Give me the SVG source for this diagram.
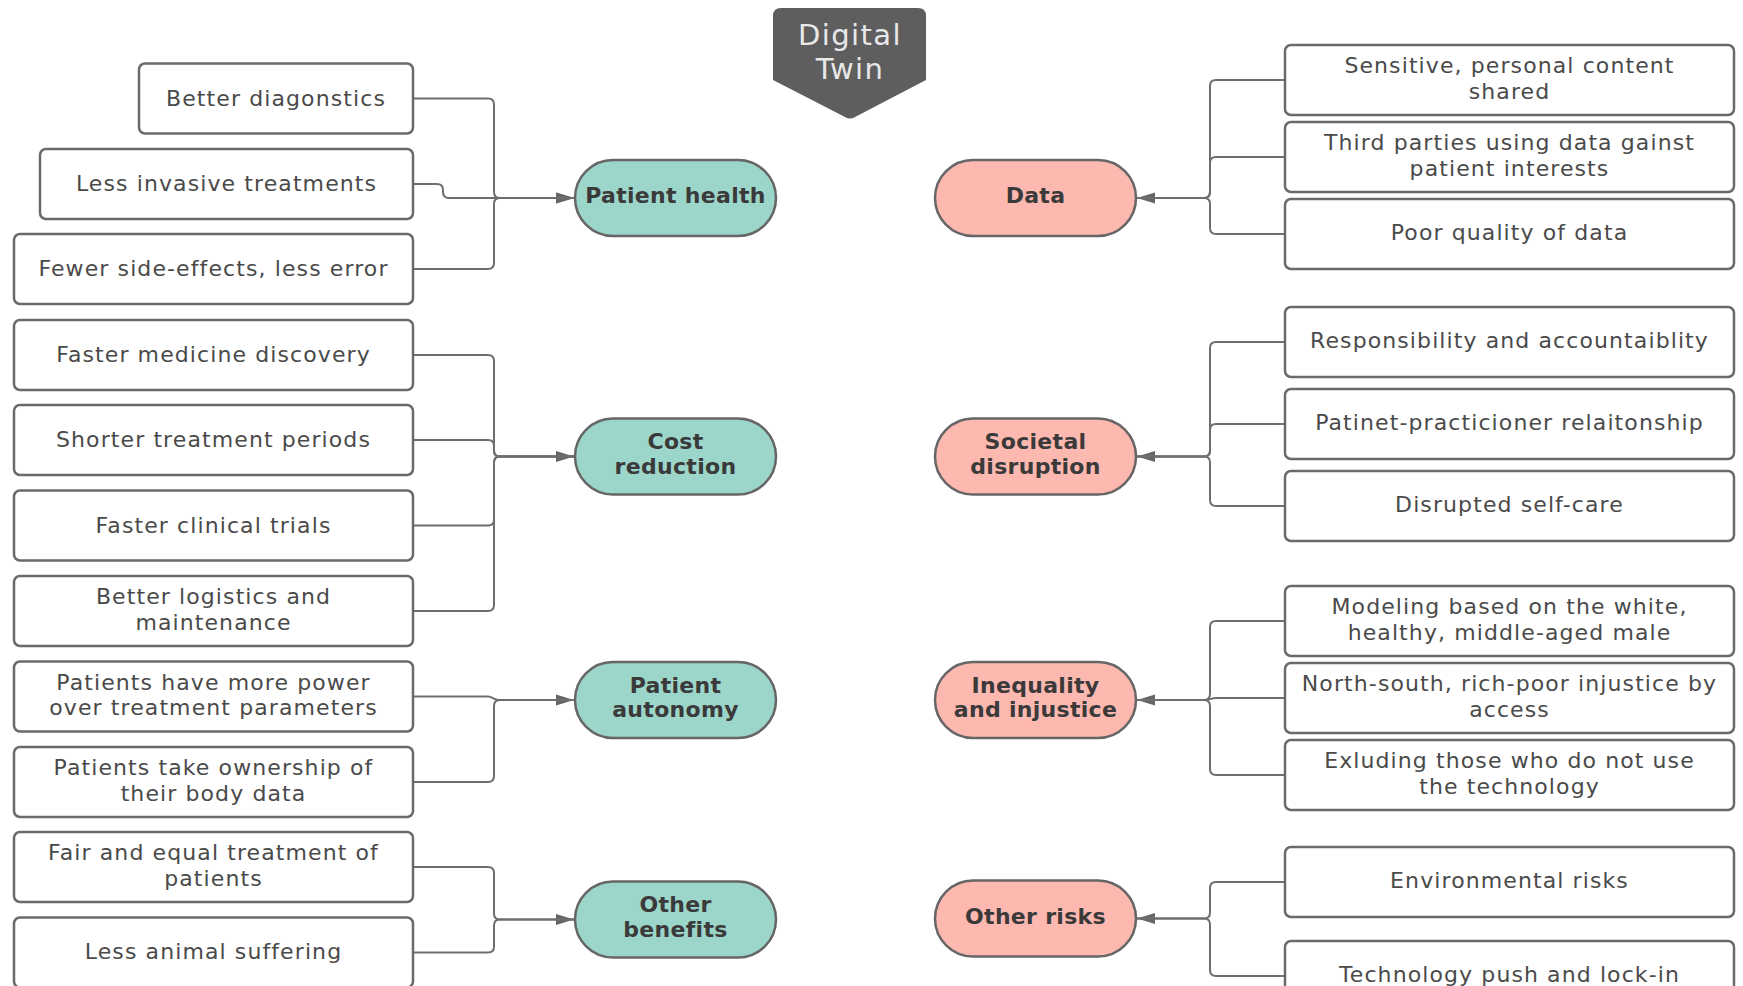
<svg xmlns="http://www.w3.org/2000/svg" width="1743" height="986" viewBox="0 0 1743 986">
  <style>
    .box { fill: #ffffff; stroke: #6a6a6a; stroke-width: 2.5; }
    .pill-benefit { fill: #9cd5c9; stroke: #666666; stroke-width: 2.5; }
    .pill-risk { fill: #fdb8af; stroke: #666666; stroke-width: 2.5; }
    .btxt { font-family: "DejaVu Sans", "Liberation Sans", sans-serif; font-size: 22px; letter-spacing: 1.1px; fill: #4a4a4a; text-anchor: middle; }
    .ptxt { font-family: "DejaVu Sans", "Liberation Sans", sans-serif; font-size: 22px; letter-spacing: 0.3px; font-weight: bold; fill: #3a3a3a; text-anchor: middle; }
    .ttxt { font-family: "DejaVu Sans", "Liberation Sans", sans-serif; font-size: 29px; fill: #e8e8e8; text-anchor: middle; letter-spacing: 1.4px; }
    .conn { fill: none; stroke: #6e6e6e; stroke-width: 2; }
  </style>
  <defs>
    <marker id="arrow" markerUnits="userSpaceOnUse" markerWidth="18" markerHeight="12" refX="18" refY="6" orient="auto">
      <path d="M0,0.5 L18,6 L0,11.5 z" fill="#666666"/>
    </marker>
  </defs>

  <rect width="1743" height="986" fill="#ffffff"/>

  <!-- title marker -->
  <g id="digital-twin">
    <path d="M781,8 H918 Q926,8 926,16 V80 L855,117 Q850,120 845,117 L773,80 V16 Q773,8 781,8 Z" fill="#5e5e5e"/>
    <text class="ttxt" x="850" y="45">Digital</text>
    <text class="ttxt" x="850" y="79">Twin</text>
  </g>

  <!-- connectors -->
  <g id="connectors">
    <!-- Patient health -->
    <path class="conn" d="M413,98.5 H488 Q494,98.5 494,104.5 V192 Q494,198 500,198 H574" marker-end="url(#arrow)"/>
    <path class="conn" d="M413,184 H437 Q443,184 443,190 V192 Q443,198 449,198 H574" marker-end="url(#arrow)"/>
    <path class="conn" d="M413,269 H488 Q494,269 494,263 V204 Q494,198 500,198 H574"/>
    <!-- Cost reduction -->
    <path class="conn" d="M413,355 H488 Q494,355 494,361 V450.5 Q494,456.5 500,456.5 H574" marker-end="url(#arrow)"/>
    <path class="conn" d="M413,440 H488 Q494,440 494,446 V450.5 Q494,456.5 500,456.5 H574"/>
    <path class="conn" d="M413,525.5 H488 Q494,525.5 494,519.5 V462.5 Q494,456.5 500,456.5 H574"/>
    <path class="conn" d="M413,611 H488 Q494,611 494,605 V462.5 Q494,456.5 500,456.5 H574"/>
    <!-- Patient autonomy -->
    <path class="conn" d="M413,696.5 H488 C493,696.5 493,700 499,700 H574" marker-end="url(#arrow)"/>
    <path class="conn" d="M413,782 H488 Q494,782 494,776 V706 Q494,700 500,700 H574"/>
    <!-- Other benefits -->
    <path class="conn" d="M413,867 H488 Q494,867 494,873 V913.5 Q494,919.5 500,919.5 H574" marker-end="url(#arrow)"/>
    <path class="conn" d="M413,952.5 H488 Q494,952.5 494,946.5 V925.5 Q494,919.5 500,919.5 H574"/>

    <!-- Data -->
    <path class="conn" d="M1285,80 H1216 Q1210,80 1210,86 V192 Q1210,198 1204,198 H1137" marker-end="url(#arrow)"/>
    <path class="conn" d="M1285,157 H1216 Q1210,157 1210,163 V192 Q1210,198 1204,198 H1137"/>
    <path class="conn" d="M1285,234 H1216 Q1210,234 1210,228 V204 Q1210,198 1204,198 H1137"/>
    <!-- Societal disruption -->
    <path class="conn" d="M1285,342 H1216 Q1210,342 1210,348 V450.5 Q1210,456.5 1204,456.5 H1137" marker-end="url(#arrow)"/>
    <path class="conn" d="M1285,424 H1216 Q1210,424 1210,430 V450.5 Q1210,456.5 1204,456.5 H1137"/>
    <path class="conn" d="M1285,506 H1216 Q1210,506 1210,500 V462.5 Q1210,456.5 1204,456.5 H1137"/>
    <!-- Inequality and injustice -->
    <path class="conn" d="M1285,621 H1216 Q1210,621 1210,627 V694 Q1210,700 1204,700 H1137" marker-end="url(#arrow)"/>
    <path class="conn" d="M1285,698 H1216 C1211,698 1211,700 1205,700 H1137"/>
    <path class="conn" d="M1285,775 H1216 Q1210,775 1210,769 V706 Q1210,700 1204,700 H1137"/>
    <!-- Other risks -->
    <path class="conn" d="M1285,882 H1216 Q1210,882 1210,888 V912.5 Q1210,918.5 1204,918.5 H1137" marker-end="url(#arrow)"/>
    <path class="conn" d="M1285,976 H1216 Q1210,976 1210,970 V924.5 Q1210,918.5 1204,918.5 H1137"/>
  </g>

  <!-- benefit categories -->
  <g id="patient-health">
    <rect class="pill-benefit" x="575" y="160" width="201" height="76" rx="38"/>
    <text class="ptxt" x="675.5" y="203">Patient health</text>
  </g>
  <g id="cost-reduction">
    <rect class="pill-benefit" x="575" y="418.5" width="201" height="76" rx="38"/>
    <text class="ptxt" x="675.5" y="449">Cost</text>
    <text class="ptxt" x="675.5" y="473.5">reduction</text>
  </g>
  <g id="patient-autonomy">
    <rect class="pill-benefit" x="575" y="662" width="201" height="76" rx="38"/>
    <text class="ptxt" x="675.5" y="692.5">Patient</text>
    <text class="ptxt" x="675.5" y="717">autonomy</text>
  </g>
  <g id="other-benefits">
    <rect class="pill-benefit" x="575" y="881.5" width="201" height="76" rx="38"/>
    <text class="ptxt" x="675.5" y="912">Other</text>
    <text class="ptxt" x="675.5" y="936.5">benefits</text>
  </g>

  <!-- risk categories -->
  <g id="data">
    <rect class="pill-risk" x="935" y="160" width="201" height="76" rx="38"/>
    <text class="ptxt" x="1035.5" y="203">Data</text>
  </g>
  <g id="societal-disruption">
    <rect class="pill-risk" x="935" y="418.5" width="201" height="76" rx="38"/>
    <text class="ptxt" x="1035.5" y="449">Societal</text>
    <text class="ptxt" x="1035.5" y="473.5">disruption</text>
  </g>
  <g id="inequality-injustice">
    <rect class="pill-risk" x="935" y="662" width="201" height="76" rx="38"/>
    <text class="ptxt" x="1035.5" y="692.5">Inequality</text>
    <text class="ptxt" x="1035.5" y="717">and injustice</text>
  </g>
  <g id="other-risks">
    <rect class="pill-risk" x="935" y="880.5" width="201" height="76" rx="38"/>
    <text class="ptxt" x="1035.5" y="923.5">Other risks</text>
  </g>

  <!-- benefit items -->
  <g id="better-diagnostics">
    <rect class="box" x="139" y="63.5" width="274" height="70" rx="6"/>
    <text class="btxt" x="276" y="105.5">Better diagonstics</text>
  </g>
  <g id="less-invasive">
    <rect class="box" x="40" y="149" width="373" height="70" rx="6"/>
    <text class="btxt" x="226.5" y="191">Less invasive treatments</text>
  </g>
  <g id="fewer-side-effects">
    <rect class="box" x="14" y="234" width="399" height="70" rx="6"/>
    <text class="btxt" x="213.5" y="276">Fewer side-effects, less error</text>
  </g>
  <g id="faster-medicine">
    <rect class="box" x="14" y="320" width="399" height="70" rx="6"/>
    <text class="btxt" x="213.5" y="362">Faster medicine discovery</text>
  </g>
  <g id="shorter-treatment">
    <rect class="box" x="14" y="405" width="399" height="70" rx="6"/>
    <text class="btxt" x="213.5" y="447">Shorter treatment periods</text>
  </g>
  <g id="faster-trials">
    <rect class="box" x="14" y="490.5" width="399" height="70" rx="6"/>
    <text class="btxt" x="213.5" y="532.5">Faster clinical trials</text>
  </g>
  <g id="better-logistics">
    <rect class="box" x="14" y="576" width="399" height="70" rx="6"/>
    <text class="btxt" x="213.5" y="604">Better logistics and</text>
    <text class="btxt" x="213.5" y="629.5">maintenance</text>
  </g>
  <g id="more-power">
    <rect class="box" x="14" y="661.5" width="399" height="70" rx="6"/>
    <text class="btxt" x="213.5" y="689.5">Patients have more power</text>
    <text class="btxt" x="213.5" y="715">over treatment parameters</text>
  </g>
  <g id="body-data">
    <rect class="box" x="14" y="747" width="399" height="70" rx="6"/>
    <text class="btxt" x="213.5" y="775">Patients take ownership of</text>
    <text class="btxt" x="213.5" y="800.5">their body data</text>
  </g>
  <g id="fair-treatment">
    <rect class="box" x="14" y="832" width="399" height="70" rx="6"/>
    <text class="btxt" x="213.5" y="860">Fair and equal treatment of</text>
    <text class="btxt" x="213.5" y="885.5">patients</text>
  </g>
  <g id="animal-suffering">
    <rect class="box" x="14" y="917.5" width="399" height="70" rx="6"/>
    <text class="btxt" x="213.5" y="959">Less animal suffering</text>
  </g>

  <!-- risk items -->
  <g id="sensitive-content">
    <rect class="box" x="1285" y="45" width="449" height="70" rx="6"/>
    <text class="btxt" x="1509.5" y="73">Sensitive, personal content</text>
    <text class="btxt" x="1509.5" y="98.5">shared</text>
  </g>
  <g id="third-parties">
    <rect class="box" x="1285" y="122" width="449" height="70" rx="6"/>
    <text class="btxt" x="1509.5" y="150">Third parties using data gainst</text>
    <text class="btxt" x="1509.5" y="175.5">patient interests</text>
  </g>
  <g id="poor-quality">
    <rect class="box" x="1285" y="199" width="449" height="70" rx="6"/>
    <text class="btxt" x="1509.5" y="240">Poor quality of data</text>
  </g>
  <g id="responsibility">
    <rect class="box" x="1285" y="307" width="449" height="70" rx="6"/>
    <text class="btxt" x="1509.5" y="348">Responsibility and accountaiblity</text>
  </g>
  <g id="practitioner-relationship">
    <rect class="box" x="1285" y="389" width="449" height="70" rx="6"/>
    <text class="btxt" x="1509.5" y="430">Patinet-practicioner relaitonship</text>
  </g>
  <g id="self-care">
    <rect class="box" x="1285" y="471" width="449" height="70" rx="6"/>
    <text class="btxt" x="1509.5" y="512">Disrupted self-care</text>
  </g>
  <g id="modeling-bias">
    <rect class="box" x="1285" y="586" width="449" height="70" rx="6"/>
    <text class="btxt" x="1509.5" y="614">Modeling based on the white,</text>
    <text class="btxt" x="1509.5" y="639.5">healthy, middle-aged male</text>
  </g>
  <g id="north-south">
    <rect class="box" x="1285" y="663" width="449" height="70" rx="6"/>
    <text class="btxt" x="1509.5" y="691">North-south, rich-poor injustice by</text>
    <text class="btxt" x="1509.5" y="716.5">access</text>
  </g>
  <g id="excluding-nonusers">
    <rect class="box" x="1285" y="740" width="449" height="70" rx="6"/>
    <text class="btxt" x="1509.5" y="768">Exluding those who do not use</text>
    <text class="btxt" x="1509.5" y="793.5">the technology</text>
  </g>
  <g id="environmental">
    <rect class="box" x="1285" y="847" width="449" height="70" rx="6"/>
    <text class="btxt" x="1509.5" y="888">Environmental risks</text>
  </g>
  <g id="lock-in">
    <rect class="box" x="1285" y="941" width="449" height="70" rx="6"/>
    <text class="btxt" x="1509.5" y="982">Technology push and lock-in</text>
  </g>
</svg>
